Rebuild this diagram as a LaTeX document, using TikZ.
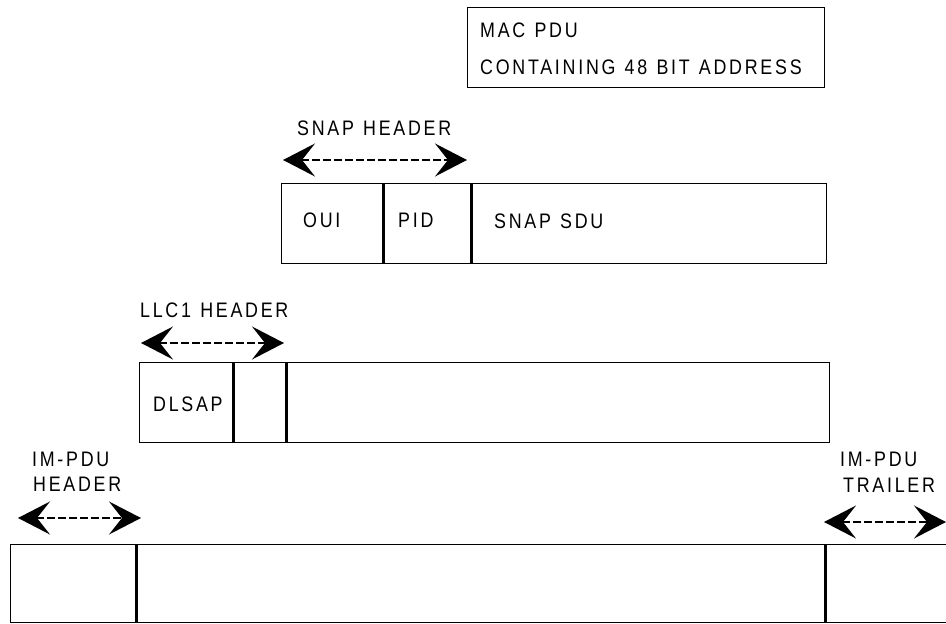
\documentclass[tikz,border=0pt]{standalone}
\usepackage{fontspec}
\setmainfont{Liberation Sans}[FakeStretch=0.85,LetterSpace=13,WordSpace=1.2]
\usetikzlibrary{arrows.meta,positioning}

\begin{document}
\begin{tikzpicture}[x=1pt,y=-1pt,
  field/.style={draw,line width=1.4pt,rectangle,minimum height=80pt,inner sep=0pt,anchor=north west},
  span/.style={{Stealth[length=32pt,width=33pt,inset=13pt]}-{Stealth[length=32pt,width=33pt,inset=13pt]},dash pattern=on 8pt off 3pt,line width=1.8pt},
  caption/.style={font=\fontsize{21}{25}\selectfont,inner sep=0pt,anchor=west}]
\useasboundingbox (0,0) rectangle (946,624);
%mac pdu
  \node[draw,line width=1.4pt,anchor=north west,minimum width=357pt,minimum height=80pt,inner sep=0pt] (mac) at (467,7) {};
  \node[caption] (mac1) at (480,30) {MAC PDU};
  \node[caption] (mac2) at (480,67) {CONTAINING 48 BIT ADDRESS};
%snap
  \node[field,minimum width=101pt] (oui) at (281,183) {};
  \node[field,minimum width=87pt,right=0pt of oui] (pid) {};
  \node[field,minimum width=354pt,right=0pt of pid] (sdu) {};
  \node[caption] (ouitext) at (303,220) {OUI};
  \node[caption] (pidtext) at (398,220) {PID};
  \node[caption] (sdutext) at (494,221) {SNAP SDU};
  \node[caption] (snaphdr) at (297,128) {SNAP HEADER};
  \coordinate (s1) at (283,160);
  \coordinate (s2) at (467,160);
  \draw[span] (s1) -- (s2);
%llc1
  \node[field,minimum width=93pt] (dlsap) at (139,362) {};
  \node[field,minimum width=52pt,right=0pt of dlsap] (ssap) {};
  \node[field,minimum width=542pt,right=0pt of ssap] (llcdata) {};
  \node[caption] (dlsaptext) at (153,404) {DLSAP};
  \node[caption] (llchdr) at (140,310) {LLC1 HEADER};
  \coordinate (l1) at (141,343);
  \coordinate (l2) at (284,343);
  \draw[span] (l1) -- (l2);
%im-pdu
  \node[field,minimum width=125pt,minimum height=78pt] (imhdr) at (10,544) {};
  \node[field,minimum width=688pt,minimum height=78pt,right=0pt of imhdr] (imbody) {};
  \node[field,minimum width=130pt,minimum height=78pt,right=0pt of imbody] (imtrl) {};
  \node[caption] (hdr1) at (32,459) {IM-PDU};
  \node[caption] (hdr2) at (33,484) {HEADER};
  \node[caption] (trl1) at (840,459) {IM-PDU};
  \node[caption] (trl2) at (843,485) {TRAILER};
  \coordinate (h1) at (18,518);
  \coordinate (h2) at (141,518);
  \draw[span] (h1) -- (h2);
  \coordinate (t1) at (824,522);
  \coordinate (t2) at (946,522);
  \draw[span] (t1) -- (t2);
\end{tikzpicture}
\end{document}
